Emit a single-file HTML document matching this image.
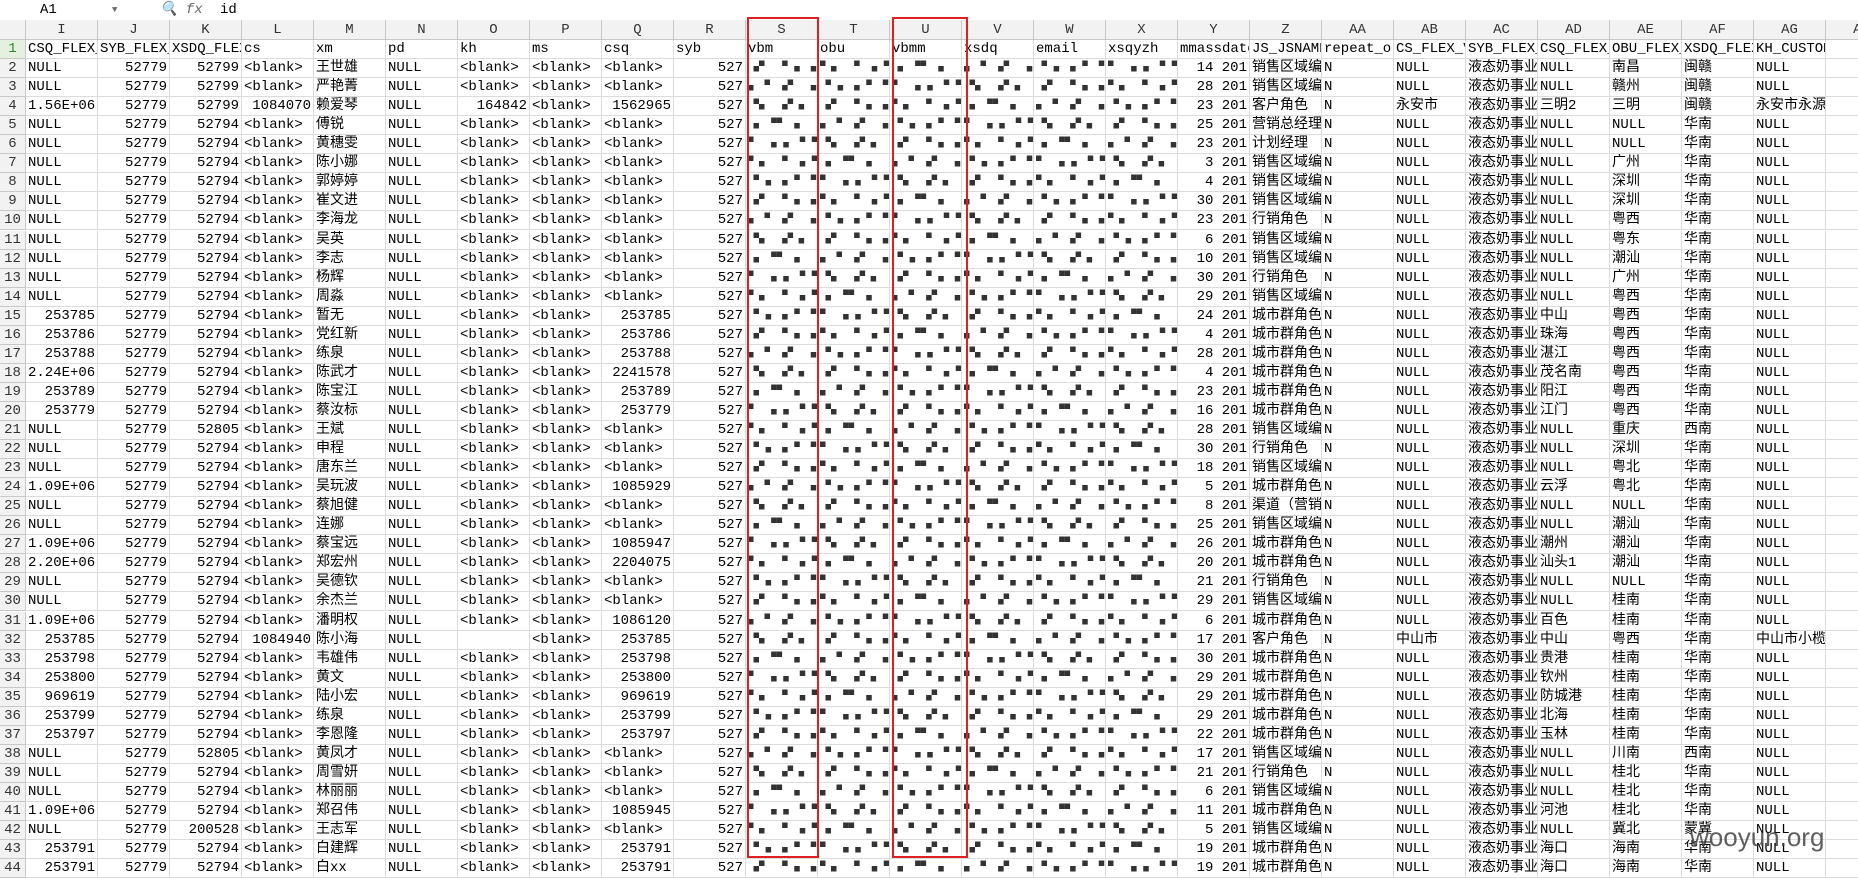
<!DOCTYPE html>
<html><head><meta charset="utf-8"><style>
body{margin:0;width:1858px;height:864px;overflow:hidden;background:#fff;font-family:"Liberation Mono","Noto Sans CJK SC",monospace;}
.c{position:absolute;height:19px;line-height:19px;font-size:14px;white-space:nowrap;overflow:hidden;box-sizing:border-box;border-right:1px solid #dcdcdc;border-bottom:1px solid #dcdcdc;padding:0 2px;color:#000;}
.r{text-align:right}
.h{background:#f2f2f2;text-align:center;color:#333;border-color:#c8c8c8}
.m{color:#333;letter-spacing:0px;font-size:11px}
</style></head><body>
<div style="position:absolute;left:0;top:0;width:1858px;height:20px;border-bottom:1px solid #ccc;font-size:14px;line-height:20px">
<span style="position:absolute;left:40px">A1</span>
<span style="position:absolute;left:112px;font-size:9px;color:#666">▼</span>
<span style="position:absolute;left:160px;color:#666;font-style:italic">🔍 fx</span>
<span style="position:absolute;left:220px">id</span>
</div>
<div id="g"></div>
<div style="position:absolute;left:747px;top:17px;width:72px;height:841px;border:2px solid #e02020;box-sizing:border-box"></div>
<div style="position:absolute;left:892px;top:17px;width:76px;height:841px;border:2px solid #e02020;box-sizing:border-box"></div>
<div style="position:absolute;left:1690px;top:822px;font-size:26px;color:#444;font-family:'Liberation Sans',sans-serif;opacity:.85">wooyun.org</div>
<script>
const cols=["I","J","K","L","M","N","O","P","Q","R","S","T","U","V","W","X","Y","Z","AA","AB","AC","AD","AE","AF","AG","AH"];
const hdr=["CSQ_FLEX_","SYB_FLEX_","XSDQ_FLEX","cs","xm","pd","kh","ms","csq","syb","vbm","obu","vbmm","xsdq","email","xsqyzh","mmassdate","JS_JSNAME","repeat_or","CS_FLEX_V","SYB_FLEX_","CSQ_FLEX_","OBU_FLEX_","XSDQ_FLEX","KH_CUSTOMER_I",""];
const B="<blank>";
const rows=[
["NULL","52799",B,"王世雄",B,B,"14","销售区域编","NULL","NULL","南昌","闽赣","NULL"],
["NULL","52799",B,"严艳菁",B,B,"28","销售区域编","NULL","NULL","赣州","闽赣","NULL"],
["1.56E+06","52799","1084070","赖爱琴","164842","1562965","23","客户角色 ","永安市","三明2","三明","闽赣","永安市永源贸易"],
["NULL","52794",B,"傅锐",B,B,"25","营销总经理","NULL","NULL","NULL","华南","NULL"],
["NULL","52794",B,"黄穗雯",B,B,"23","计划经理","NULL","NULL","NULL","华南","NULL"],
["NULL","52794",B,"陈小娜",B,B,"3","销售区域编","NULL","NULL","广州","华南","NULL"],
["NULL","52794",B,"郭婷婷",B,B,"4","销售区域编","NULL","NULL","深圳","华南","NULL"],
["NULL","52794",B,"崔文进",B,B,"30","销售区域编","NULL","NULL","深圳","华南","NULL"],
["NULL","52794",B,"李海龙",B,B,"23","行销角色 ","NULL","NULL","粤西","华南","NULL"],
["NULL","52794",B,"吴英",B,B,"6","销售区域编","NULL","NULL","粤东","华南","NULL"],
["NULL","52794",B,"李志",B,B,"10","销售区域编","NULL","NULL","潮汕","华南","NULL"],
["NULL","52794",B,"杨辉",B,B,"30","行销角色 ","NULL","NULL","广州","华南","NULL"],
["NULL","52794",B,"周淼",B,B,"29","销售区域编","NULL","NULL","粤西","华南","NULL"],
["253785","52794",B,"暂无",B,"253785","24","城市群角色","NULL","中山","粤西","华南","NULL"],
["253786","52794",B,"党红新",B,"253786","4","城市群角色","NULL","珠海","粤西","华南","NULL"],
["253788","52794",B,"练泉",B,"253788","28","城市群角色","NULL","湛江","粤西","华南","NULL"],
["2.24E+06","52794",B,"陈武才",B,"2241578","4","城市群角色","NULL","茂名南","粤西","华南","NULL"],
["253789","52794",B,"陈宝江",B,"253789","23","城市群角色","NULL","阳江","粤西","华南","NULL"],
["253779","52794",B,"蔡汝标",B,"253779","16","城市群角色","NULL","江门","粤西","华南","NULL"],
["NULL","52805",B,"王斌",B,B,"28","销售区域编","NULL","NULL","重庆","西南","NULL"],
["NULL","52794",B,"申程",B,B,"30","行销角色 ","NULL","NULL","深圳","华南","NULL"],
["NULL","52794",B,"唐东兰",B,B,"18","销售区域编","NULL","NULL","粤北","华南","NULL"],
["1.09E+06","52794",B,"吴玩波",B,"1085929","5","城市群角色","NULL","云浮","粤北","华南","NULL"],
["NULL","52794",B,"蔡旭健",B,B,"8","渠道（营销","NULL","NULL","NULL","华南","NULL"],
["NULL","52794",B,"连娜",B,B,"25","销售区域编","NULL","NULL","潮汕","华南","NULL"],
["1.09E+06","52794",B,"蔡宝远",B,"1085947","26","城市群角色","NULL","潮州","潮汕","华南","NULL"],
["2.20E+06","52794",B,"郑宏州",B,"2204075","20","城市群角色","NULL","汕头1","潮汕","华南","NULL"],
["NULL","52794",B,"吴德钦",B,B,"21","行销角色 ","NULL","NULL","NULL","华南","NULL"],
["NULL","52794",B,"余杰兰",B,B,"29","销售区域编","NULL","NULL","桂南","华南","NULL"],
["1.09E+06","52794",B,"潘明权",B,"1086120","6","城市群角色","NULL","百色","桂南","华南","NULL"],
["253785","52794","1084940","陈小海","","253785","17","客户角色 ","中山市","中山","粤西","华南","中山市小榄镇"],
["253798","52794",B,"韦雄伟",B,"253798","30","城市群角色","NULL","贵港","桂南","华南","NULL"],
["253800","52794",B,"黄文",B,"253800","29","城市群角色","NULL","钦州","桂南","华南","NULL"],
["969619","52794",B,"陆小宏",B,"969619","29","城市群角色","NULL","防城港","桂南","华南","NULL"],
["253799","52794",B,"练泉",B,"253799","29","城市群角色","NULL","北海","桂南","华南","NULL"],
["253797","52794",B,"李恩隆",B,"253797","22","城市群角色","NULL","玉林","桂南","华南","NULL"],
["NULL","52805",B,"黄凤才",B,B,"17","销售区域编","NULL","NULL","川南","西南","NULL"],
["NULL","52794",B,"周雪妍",B,B,"21","行销角色 ","NULL","NULL","桂北","华南","NULL"],
["NULL","52794",B,"林丽丽",B,B,"6","销售区域编","NULL","NULL","桂北","华南","NULL"],
["1.09E+06","52794",B,"郑召伟",B,"1085945","11","城市群角色","NULL","河池","桂北","华南","NULL"],
["NULL","200528",B,"王志军",B,B,"5","销售区域编","NULL","NULL","冀北","蒙冀","NULL"],
["253791","52794",B,"白建辉",B,"253791","19","城市群角色","NULL","海口","海南","华南","NULL"],
["253791","52794",B,"白xx",B,"253791","19","城市群角色","NULL","海口","海南","华南","NULL"]
];
const mos=["▘▖ ▝ ▗ ▘","▗ ▝▘ ▖ ▝","▖▝ ▗▘  ▗","▝ ▖▗ ▘▝ ","▘ ▗ ▖▝ ▘","  ▝▖ ▗▘▖","▗▘ ▝  ▖▗"];
const g=document.getElementById('g');
const X0=26,W=72,Y0=40,H=19.05;
function cell(x,y,w,h,t,cls,name){const d=document.createElement('div');d.className='c '+cls;d.style.left=x+'px';d.style.top=y+'px';d.style.width=w+'px';d.style.height=h+'px';d.style.lineHeight=h+'px';d.textContent=t;


g.appendChild(d);return d;}
cell(0,20,X0,20,"","h","corner-cell");
cols.forEach((c,i)=>{cell(X0+i*W,20,W,20,c,"h","column-header-"+c.toLowerCase());});
for(let r=0;r<44;r++){
 const y=Y0+r*H;
 const rn=cell(0,y,X0,H,String(r+1),"h","row-header-"+(r+1));
 if(r===0){rn.style.color="#2a8a2a";rn.style.background="#e6f0e0";}
 for(let i=0;i<cols.length;i++){
  const x=X0+i*W;let t="",cls="";
  if(r===0){t=hdr[i];}
  else{const d=rows[r-1];const c=cols[i];
   const map={I:d[0],J:"52779",K:d[1],L:d[2],M:d[3],N:"NULL",O:d[4],P:B,Q:d[5],R:"527",Y:d[6]+" 201",Z:d[7],AA:"N",AB:d[8],AC:"液态奶事业",AD:d[9],AE:d[10],AF:d[11],AG:d[12],AH:""};
   if(["S","T","U","V","W","X"].includes(c)){t=mos[(r*3+i)%mos.length];cls="m";}
   else{t=map[c];if(/^[0-9.E+ ]+$/.test(t))cls="r";if(c==="Y"||c==="R")cls="r";}
  }
  cell(x,y,W,H,t,cls,"cell-"+cols[i].toLowerCase()+(r+1));
 }
}
</script>
</body></html>
